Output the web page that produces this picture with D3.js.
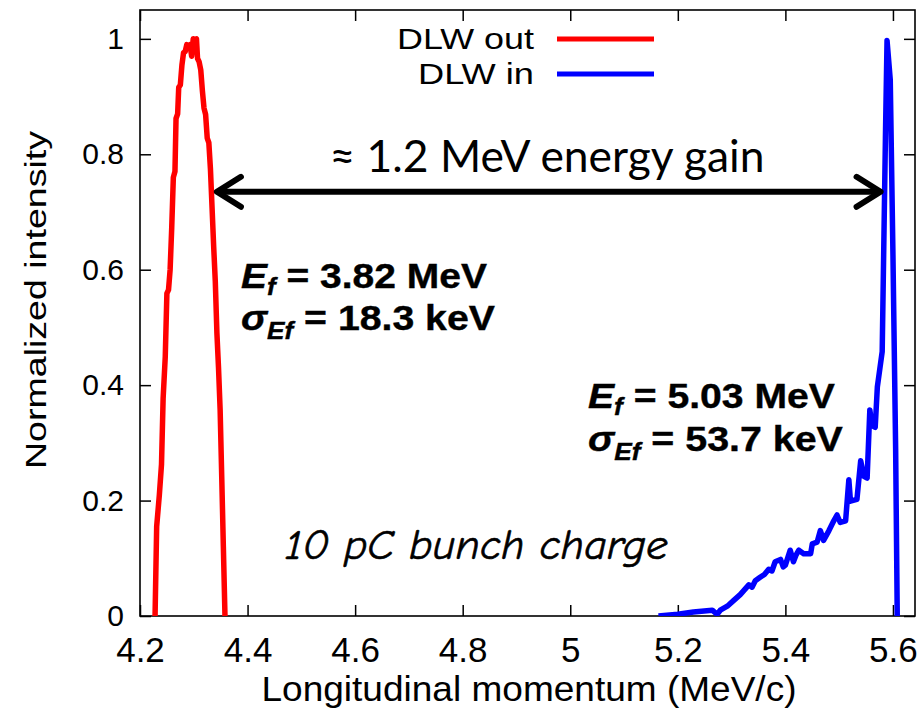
<!DOCTYPE html>
<html><head><meta charset="utf-8">
<script src="https://cdn.jsdelivr.net/npm/d3@7"></script>
<style>body{margin:0;background:#fff} svg{display:block}</style>
</head><body>
<svg id="chart" width="920" height="711"></svg>
<script>
// ---- data ----
const redX = [4.228,4.231,4.236,4.240,4.243,4.247,4.250,4.253,4.256,4.259,4.262,4.265,4.267,4.270,4.272,4.275,4.278,4.281,4.284,4.287,4.290,4.293,4.296,4.299,4.302,4.305,4.307,4.310,4.313,4.316,4.319,4.322,4.325,4.328,4.331,4.334,4.337,4.340,4.343,4.346,4.349,4.352,4.355,4.358];
const redY = [0,0.155,0.21,0.263,0.377,0.45,0.559,0.565,0.60,0.673,0.76,0.77,0.862,0.87,0.916,0.92,0.955,0.976,0.978,0.99,0.985,0.99,0.97,1.0,0.998,1.0,0.966,0.96,0.946,0.91,0.88,0.869,0.828,0.82,0.774,0.707,0.64,0.58,0.49,0.43,0.357,0.24,0.12,0];
const blueX = [5.164,5.200,5.229,5.264,5.273,5.279,5.292,5.304,5.316,5.332,5.338,5.344,5.353,5.361,5.369,5.375,5.381,5.391,5.396,5.400,5.409,5.415,5.420,5.425,5.434,5.447,5.450,5.459,5.465,5.471,5.481,5.490,5.496,5.502,5.512,5.518,5.521,5.533,5.540,5.546,5.552,5.557,5.561,5.567,5.571,5.580,5.586,5.589,5.595,5.600,5.605,5.608];
const blueY = [0,0.003,0.007,0.010,0.003,0.010,0.017,0.027,0.037,0.054,0.050,0.061,0.067,0.072,0.081,0.078,0.094,0.098,0.085,0.088,0.114,0.094,0.106,0.114,0.108,0.108,0.125,0.128,0.148,0.131,0.148,0.165,0.175,0.162,0.165,0.236,0.199,0.202,0.269,0.242,0.239,0.357,0.330,0.327,0.397,0.458,0.828,0.997,0.929,0.626,0.29,0];
const xTicks = [4.2,4.4,4.6,4.8,5,5.2,5.4,5.6];
const yTicks = [0,0.2,0.4,0.6,0.8,1];
const seriesNames = ["DLW out","DLW in"];
const seriesColors = ["#ff0000","#0000ff"];
const gainLabel = "\u2248 1.2 MeV energy gain";
const gainArrowX = [4.343, 5.577];
const gainArrowY = 0.735;
const energyValues = ["3.82 MeV","5.03 MeV"];
const sigmaValues = ["18.3 keV","53.7 keV"];
const chargeLabel = "10 pC bunch charge";
const xTitle = "Longitudinal momentum (MeV/c)";
const yTitle = "Normalized intensity";

// ---- layout ----
const svg = d3.select("#chart");
const L = 140, R = 915, T = 10, B = 616;
const x = d3.scaleLinear().domain([4.2, 5.641]).range([L, R]);
const y = d3.scaleLinear().domain([0, 1.05]).range([B, T]);
const FONT = "'Liberation Sans', Arial, Helvetica, sans-serif";

svg.append("defs").append("clipPath").attr("id","clip")
  .append("rect").attr("x",L).attr("y",T-3).attr("width",R-L).attr("height",B-T+3);

// axes (ticks inside, mirrored)
function styleAxis(g){ g.select(".domain").remove(); g.selectAll("line").attr("stroke","#000").attr("stroke-width",1.5); }
svg.append("g").attr("transform",`translate(0,${B})`)
  .call(d3.axisBottom(x).tickValues(xTicks).tickSize(-11).tickPadding(21).tickFormat(d=>String(d)))
  .call(styleAxis)
  .selectAll("text").attr("font-family",FONT).attr("font-size",35).attr("fill","#000");
svg.append("g").attr("transform",`translate(0,${T})`)
  .call(d3.axisTop(x).tickValues(xTicks).tickSize(-11).tickFormat(""))
  .call(styleAxis);
svg.append("g").attr("transform",`translate(${L},0)`)
  .call(d3.axisLeft(y).tickValues(yTicks).tickSize(-11).tickPadding(16).tickFormat(d=>String(d)))
  .call(styleAxis)
  .selectAll("text").attr("font-family",FONT).attr("font-size",30).attr("fill","#000");
svg.append("g").attr("transform",`translate(${R},0)`)
  .call(d3.axisRight(y).tickValues(yTicks).tickSize(-11).tickFormat(""))
  .call(styleAxis);

// frame
svg.append("rect").attr("x",L).attr("y",T).attr("width",R-L).attr("height",B-T)
  .attr("fill","none").attr("stroke","#000").attr("stroke-width",1.6);

// curves
const line = d3.line().x(d=>x(d[0])).y(d=>y(d[1]));
const series = [d3.zip(redX, redY), d3.zip(blueX, blueY)];
svg.append("g").attr("clip-path","url(#clip)").selectAll("path").data(series).join("path")
  .attr("d", line).attr("fill","none")
  .attr("stroke",(d,i)=>seriesColors[i]).attr("stroke-width",5.5).attr("stroke-linejoin","round");

// legend
const legY = [39, 74];
seriesNames.forEach((n,i)=>{
  svg.append("text").attr("x",534).attr("y",legY[i]+10).attr("text-anchor","end")
    .attr("font-family",FONT).attr("font-size",30).attr("fill","#000")
    .attr("textLength", i===0?137:116).attr("lengthAdjust","spacingAndGlyphs").text(n);
  svg.append("line").attr("x1",557).attr("x2",654).attr("y1",legY[i]).attr("y2",legY[i])
    .attr("stroke",seriesColors[i]).attr("stroke-width",5);
});

// axis titles
svg.append("text").attr("x",529).attr("y",701).attr("text-anchor","middle")
  .attr("font-family",FONT).attr("font-size",35).attr("fill","#000")
  .attr("textLength",535).attr("lengthAdjust","spacingAndGlyphs").text(xTitle);
svg.append("text").attr("transform","translate(46,300) rotate(-90)").attr("text-anchor","middle")
  .attr("font-family",FONT).attr("font-size",30).attr("fill","#000")
  .attr("textLength",338).attr("lengthAdjust","spacingAndGlyphs").text(yTitle);

// energy gain arrow
const ax1 = x(gainArrowX[0]), ax2 = x(gainArrowX[1]), ay = y(gainArrowY);
const arrow = svg.append("g").attr("stroke","#000").attr("stroke-width",6)
  .attr("stroke-linecap","round").attr("stroke-linejoin","round").attr("fill","none");
arrow.append("line").attr("x1",ax1+3).attr("x2",ax2-3).attr("y1",ay).attr("y2",ay);
arrow.append("path").attr("d",`M${ax1+24},${ay-15} L${ax1},${ay} L${ax1+24},${ay+15}`);
arrow.append("path").attr("d",`M${ax2-24},${ay-15} L${ax2},${ay} L${ax2-24},${ay+15}`);
svg.append("text").attr("x",547).attr("y",172).attr("text-anchor","middle")
  .attr("font-family","Lato, 'Open Sans', sans-serif").attr("font-size",44).attr("fill","#000")
  .attr("textLength",435).attr("lengthAdjust","spacingAndGlyphs").text(gainLabel);

// annotations
function annot(x0, base1, base2, eVal, sVal, w1, w2){
  const mk = (base, w, parts) => {
    const g = svg.append("g");
    const t = g.append("text").attr("font-family",FONT).attr("font-weight","bold")
      .attr("font-size",36).attr("fill","#000").attr("stroke","#000").attr("stroke-width",0.4);
    parts.forEach(p=>{
      const ts = t.append("tspan").text(p.t);
      if(p.it) ts.attr("font-style","italic");
      if(p.fs) ts.attr("font-size",p.fs);
      if(p.dy) ts.attr("dy",p.dy);
    });
    const bw = t.node().getBBox().width;
    g.attr("transform",`translate(${x0},${base}) scale(${w/bw},1)`);
  };
  mk(base1, w1, [{t:"E",it:true},{t:"f",it:true,fs:24,dy:7},{t:" = "+eVal,dy:-7}]);
  mk(base2, w2, [{t:"\u03C3",it:true},{t:"Ef",it:true,fs:24,dy:9},{t:" = "+sVal,dy:-9}]);
}
annot(241, 288, 330, energyValues[0], sigmaValues[0], 246, 254);
annot(588, 408, 451, energyValues[1], sigmaValues[1], 247, 255);

// bunch charge
svg.append("text").attr("x",285).attr("y",559)
  .attr("font-family","'Comic Sans MS','Comic Neue','DejaVu Sans',sans-serif")
  .attr("font-style","italic").attr("font-size",42).attr("fill","#000")
  .attr("stroke","#000").attr("stroke-width",0.6)
  .attr("textLength",383).attr("lengthAdjust","spacingAndGlyphs").text(chargeLabel);
</script>
</body></html>
